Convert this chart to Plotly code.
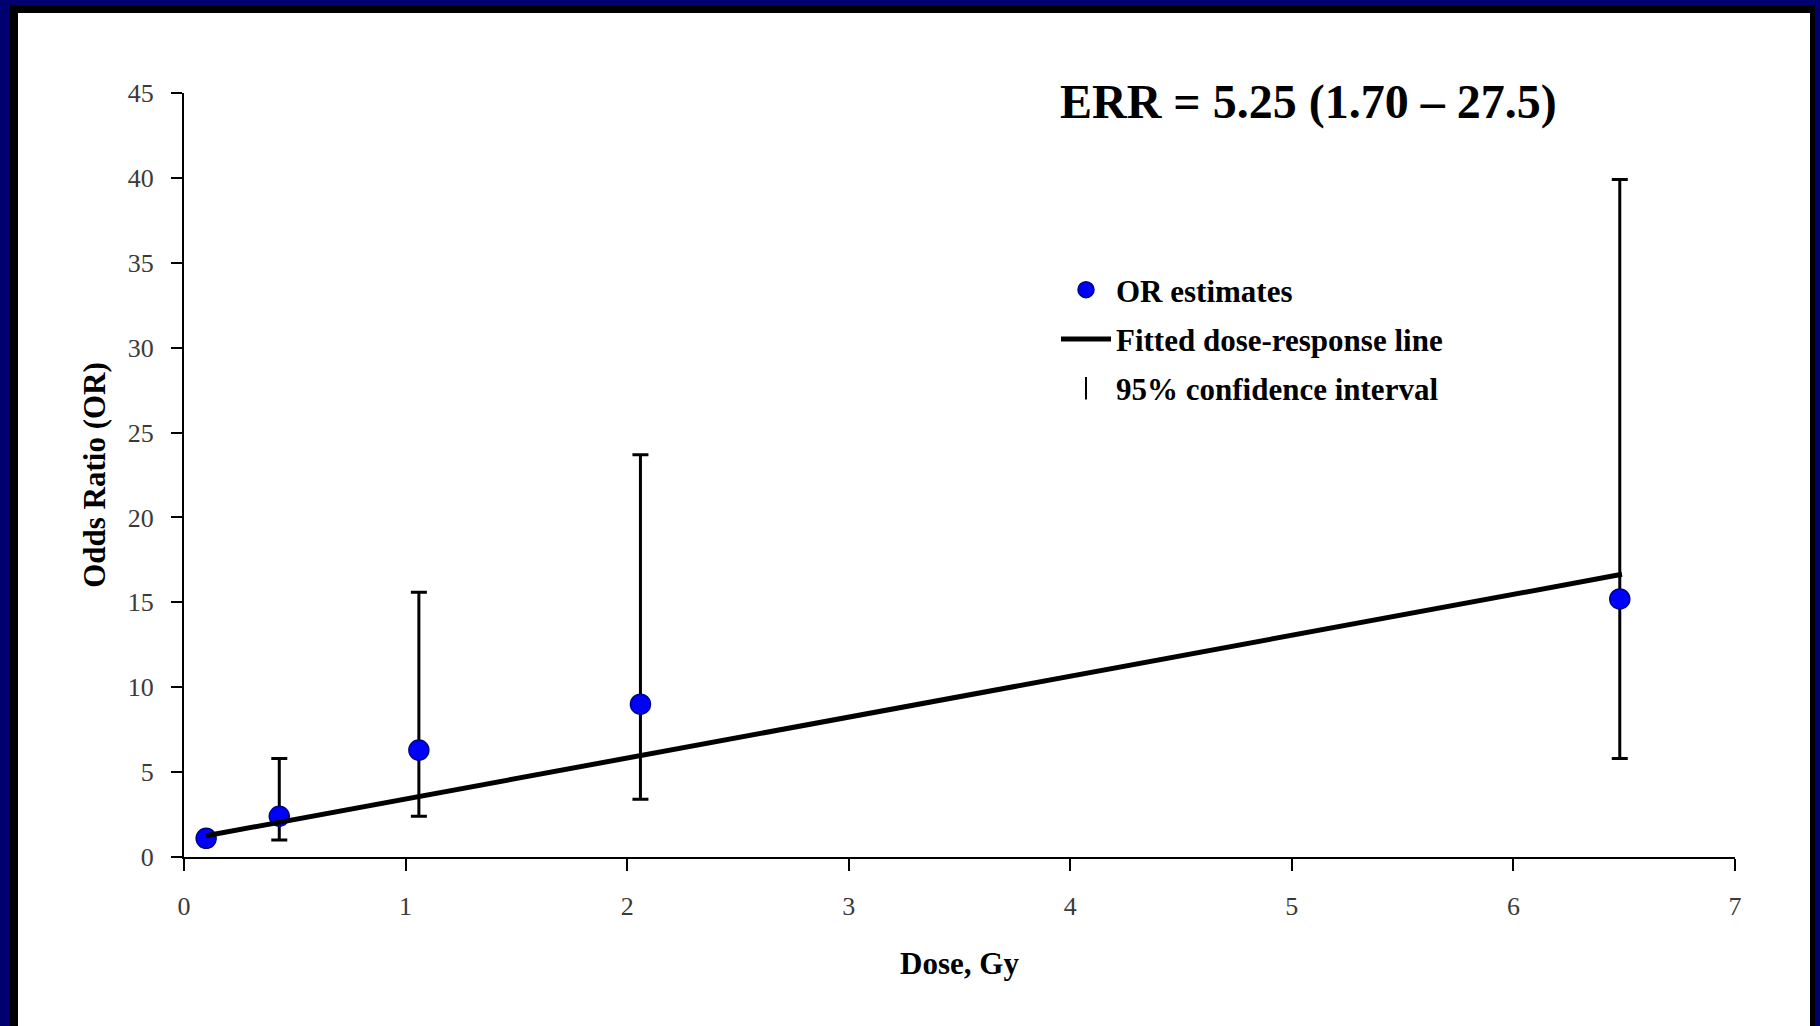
import plotly.graph_objects as go

# ---- data ----
dose = [0.10, 0.43, 1.06, 2.06, 6.48]
odds_ratio = [1.1, 2.4, 6.3, 9.0, 15.2]
ci_upper = [1.1, 5.8, 15.6, 23.7, 39.9]
ci_lower = [1.1, 1.0, 2.4, 3.4, 5.8]
fit_dose = [0.10, 6.49]
fit_or = [1.25, 16.65]
x_ticks = [0, 1, 2, 3, 4, 5, 6, 7]
y_ticks = [0, 5, 10, 15, 20, 25, 30, 35, 40, 45]

err_plus = [u - o for u, o in zip(ci_upper, odds_ratio)]
err_minus = [o - l for o, l in zip(odds_ratio, ci_lower)]

W, H = 1820, 1026
ML, MR, MT, MB = 184, 85, 93, 169
PW = W - ML - MR
PH = H - MT - MB


def px_x(px):
    return (px - ML) / PW


def px_y(py):
    return (H - MB - py) / PH


SERIF = "Liberation Serif, Times New Roman, serif"

fig = go.Figure()

fig.add_trace(go.Scatter(
    x=dose, y=odds_ratio, mode="markers", name="OR estimates",
    marker=dict(size=20, color="#0000ff", line=dict(color="#00008b", width=1.5)),
    error_y=dict(type="data", symmetric=False, array=err_plus, arrayminus=err_minus,
                 color="black", thickness=3, width=8),
    legendgroup="a", legendrank=1,
))

fig.add_trace(go.Scatter(
    x=fit_dose, y=fit_or, mode="lines", name="Fitted dose-response line",
    line=dict(color="black", width=5),
    legendgroup="b", legendrank=2,
))

fig.add_trace(go.Scatter(
    x=[None], y=[None], mode="markers", name="95% confidence interval",
    marker=dict(symbol="line-ns-open", size=16, color="black", line=dict(color="black", width=2)),
    legendgroup="c", legendrank=3,
))

shapes = [
    dict(type="rect", xref="paper", yref="paper", x0=px_x(0), x1=px_x(W), y0=px_y(H), y1=px_y(0),
         fillcolor="#000070", line=dict(width=0), layer="below"),
    dict(type="rect", xref="paper", yref="paper", x0=px_x(10), x1=px_x(1815), y0=px_y(H), y1=px_y(5),
         fillcolor="#000000", line=dict(width=0), layer="below"),
    dict(type="rect", xref="paper", yref="paper", x0=px_x(18), x1=px_x(1810), y0=px_y(H), y1=px_y(13),
         fillcolor="#ffffff", line=dict(width=0), layer="below"),
]

fig.update_layout(
    width=W, height=H,
    margin=dict(l=ML, r=MR, t=MT, b=MB, pad=0),
    paper_bgcolor="#000070",
    plot_bgcolor="rgba(0,0,0,0)",
    shapes=shapes,
    font=dict(family=SERIF, color="black"),
    showlegend=True,
    legend=dict(
        x=px_x(1056), y=px_y(263), xanchor="left", yanchor="top",
        bgcolor="rgba(0,0,0,0)", borderwidth=0, itemwidth=50,
        font=dict(family=SERIF, size=31, color="black", weight="bold"),
        traceorder="grouped", tracegroupgap=6,
    ),
    annotations=[dict(
        text="<b>ERR = 5.25 (1.70 – 27.5)</b>", xref="paper", yref="paper",
        x=px_x(1308), y=px_y(102), xanchor="center", yanchor="middle",
        showarrow=False, font=dict(family=SERIF, size=48, color="black"),
    )],
)

fig.update_xaxes(
    range=[0, 7], tickmode="array", tickvals=x_ticks, ticktext=[str(v) for v in x_ticks],
    showgrid=False, zeroline=False, showline=True, linecolor="black", linewidth=2,
    ticks="outside", ticklen=12, tickwidth=2, tickcolor="black",
    tickfont=dict(family=SERIF, size=26, color="#3a3a3a"), ticklabelstandoff=13,
    title=dict(text="<b>Dose, Gy</b>", font=dict(family=SERIF, size=31, color="black"), standoff=32),
)
fig.update_yaxes(
    range=[0, 45], tickmode="array", tickvals=y_ticks, ticktext=[str(v) for v in y_ticks],
    showgrid=False, zeroline=False, showline=True, linecolor="black", linewidth=2,
    ticks="outside", ticklen=11, tickwidth=2, tickcolor="black",
    tickfont=dict(family=SERIF, size=26, color="#3a3a3a"), ticklabelstandoff=12,
    title=dict(text="<b>Odds Ratio (OR)</b>", font=dict(family=SERIF, size=31, color="black"), standoff=13),
)

fig.write_html(
    "out.html",
    config={"displayModeBar": False},
    post_script="document.body.style.margin='0';document.body.style.overflow='hidden';",
)
